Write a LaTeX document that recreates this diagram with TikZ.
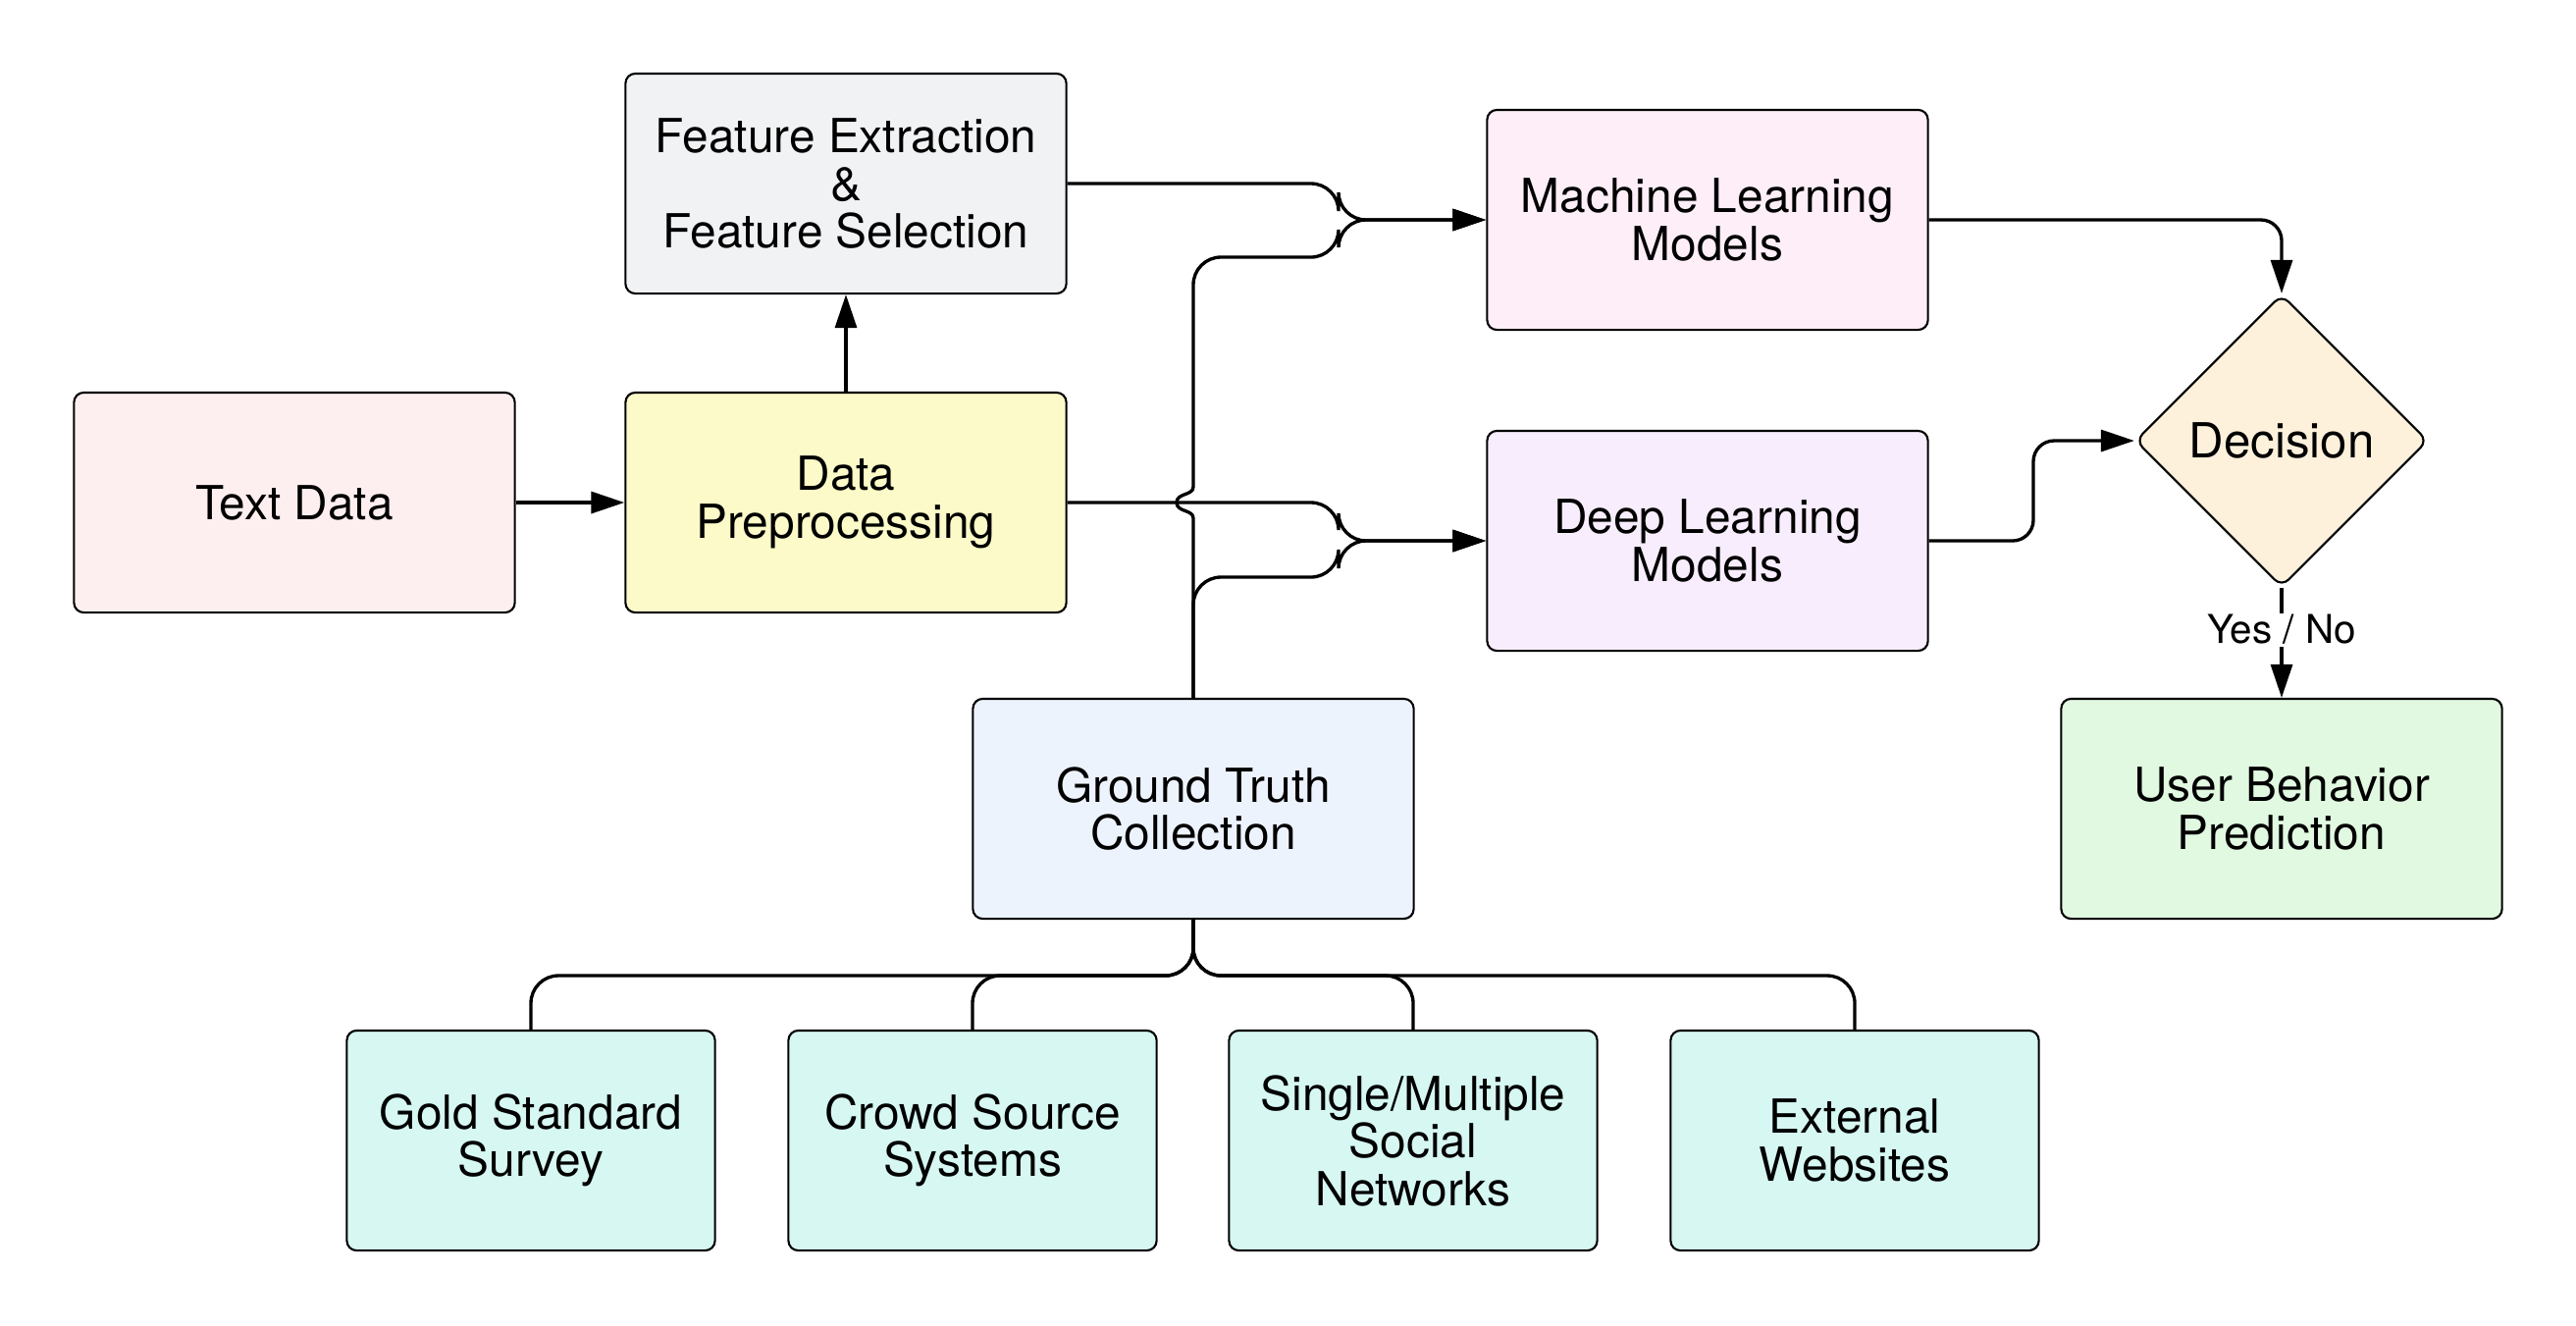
\documentclass[tikz,border=0pt]{standalone}
\usepackage{fontspec}
\setmainfont{TeX Gyre Heros}
\usetikzlibrary{shapes.geometric,arrows.meta}
\definecolor{tdcol}{HTML}{FDEFEF}
\definecolor{dpcol}{HTML}{FBFAC8}
\definecolor{fecol}{HTML}{F1F2F4}
\definecolor{mlcol}{HTML}{FDEEF8}
\definecolor{dlcol}{HTML}{F8EDFC}
\definecolor{deccol}{HTML}{FDF1DC}
\definecolor{ubpcol}{HTML}{E1F8E1}
\definecolor{gtcol}{HTML}{EDF3FD}
\definecolor{botcol}{HTML}{D6F7F2}
\begin{document}
\begin{tikzpicture}[x=0.01cm,y=-0.01cm,
  box/.style={draw, line width=0.6pt, rounded corners=1mm, minimum width=44.9mm, minimum height=22.4mm, align=center, font=\fontsize{13.6}{13.8}\selectfont, inner sep=0pt},
  sbox/.style={box, minimum width=37.5mm, fill=botcol},
  conn/.style={line width=0.95pt, -{Triangle[length=3.4mm,width=2.2mm]}},
  wire/.style={line width=0.95pt},
]
\useasboundingbox (0,0) rectangle (2625,1350);

\node[box, fill=tdcol] (TD) at (300,512) {Text Data};
\node[box, fill=dpcol] (DP) at (862,512) {Data\\Preprocessing};
\node[box, fill=fecol] (FE) at (862,187) {Feature Extraction\\\&\\Feature Selection};
\node[box, fill=mlcol] (ML) at (1740,224) {Machine Learning\\Models};
\node[box, fill=dlcol] (DL) at (1740,551) {Deep Learning\\Models};
\node[diamond, draw, line width=0.6pt, fill=deccol, rounded corners=1mm, minimum width=29.8mm, minimum height=29.8mm, inner sep=0pt, font=\fontsize{14}{14}\selectfont] (DEC) at (2325,449) {Decision};
\node[box, fill=ubpcol] (UBP) at (2325,824) {User Behavior\\Prediction};
\node[box, fill=gtcol] (GT) at (1216,824) {Ground Truth\\Collection};
\node[sbox] (B1) at (541,1162) {Gold Standard\\Survey};
\node[sbox] (B2) at (991,1162) {Crowd Source\\Systems};
\node[sbox] (B3) at (1440,1162) {Single/Multiple\\Social\\Networks};
\node[sbox] (B4) at (1890,1162) {External\\Websites};

\coordinate (mx) at (1364,0);

% Text Data -> Data Preprocessing
\draw[conn] (TD.east) -- (DP.west);
% Data Preprocessing -> Feature Extraction
\draw[conn] (DP.north) -- (FE.south);
% Feature Extraction -> ML
\draw[conn, rounded corners=8] (FE.east) -- (mx |- FE.east) -- (mx |- ML.west) -- (ML.west);
% Data Preprocessing -> DL
\draw[conn, rounded corners=8] (DP.east) -- (mx |- DP.east) -- (mx |- DL.west) -- (DL.west);
% Ground Truth -> ML (with line jump over DP line)
\draw[conn] (GT.north) -- (1216,528) .. controls (1216,519) and (1199,522) .. (1199,512) .. controls (1199,502) and (1216,505) .. (1216,496) [rounded corners=8] -- (1216,262) -- (1364,262) -- (mx |- ML.west) -- (ML.west);
% Ground Truth -> DL
\draw[conn, rounded corners=8] (GT.north) -- (1216,588) -- (1364,588) -- (mx |- DL.west) -- (DL.west);
% ML -> Decision
\draw[conn, rounded corners=6] (ML.east) -| (DEC.north);
% DL -> Decision
\draw[conn, rounded corners=6] (DL.east) -- (2072,551) -- (2072,449) -- (DEC.west);
% Decision -> User Behavior Prediction
\draw[conn] (DEC.south) -- node[pos=0.38, fill=white, inner sep=0.5pt, font=\fontsize{11.5}{12}\selectfont] (YN) {Yes / No} (UBP.north);
% Ground truth bus
\foreach \b in {B1,B2,B3,B4}{
  \draw[wire, rounded corners=8] (GT.south) -- (1216,994) -| (\b.north);
}
\end{tikzpicture}
\end{document}
